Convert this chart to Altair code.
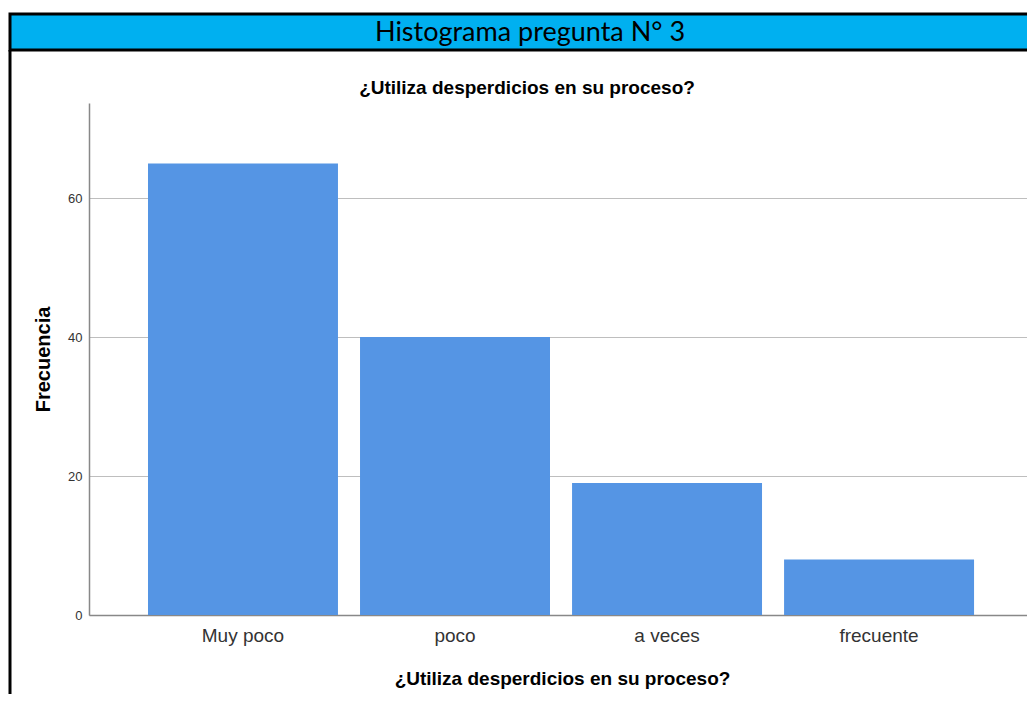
import altair as alt
import pandas as pd

categories = ["Muy poco", "poco", "a veces", "frecuente"]
frequencies = [65, 40, 19, 8]
y_ticks = [0, 20, 40, 60]
header_text = "Histograma pregunta N° 3"
chart_title = "¿Utiliza desperdicios en su proceso?"
x_title = "¿Utiliza desperdicios en su proceso?"
y_title = "Frecuencia"

df = pd.DataFrame({"cat": categories, "freq": frequencies})
one = pd.DataFrame({"k": [0]})

W, H = 938, 512
PAD = dict(left=81, top=95, right=0, bottom=79)
FONT = "Liberation Sans"

bars = alt.Chart(df).mark_bar(color="#5595E4").encode(
    x=alt.X("cat:N", sort=categories, title=x_title,
            scale=alt.Scale(paddingInner=0.104, paddingOuter=0.264, align=0.527),
            axis=alt.Axis(labelAngle=0, ticks=False, domainColor="#888888", domainWidth=1.5,
                          labelFont=FONT, labelFontSize=19, labelColor="#333333", labelPadding=11,
                          titleFont=FONT, titleFontSize=19, titleFontWeight="bold",
                          titleColor="#000000", titlePadding=24, titleX=473)),
    y=alt.Y("freq:Q", title=y_title, scale=alt.Scale(domain=[0, 73.7], nice=False),
            axis=alt.Axis(values=y_ticks, ticks=False, grid=True, gridColor="#BEBEBE",
                          domainColor="#888888", domainWidth=1.5,
                          labelFont=FONT, labelFontSize=13, labelColor="#333333", labelPadding=7,
                          titleFont=FONT, titleFontSize=20, titleFontWeight="bold",
                          titleColor="#000000", titlePadding=14)),
)

header = alt.Chart(one).mark_rect(fill="#00B0F0", stroke="#000000", strokeWidth=3).encode(
    x=alt.value(-79), x2=alt.value(W + 10), y=alt.value(-89), y2=alt.value(-53)
)
border = alt.Chart(one).mark_rule(color="#000000", strokeWidth=3).encode(
    x=alt.value(-79), y=alt.value(-53), y2=alt.value(H + PAD["bottom"])
)
header_lbl = alt.Chart(one).mark_text(
    text=header_text, font="Lato", fontSize=27, color="#000000", align="center", baseline="middle"
).encode(x=alt.value(441), y=alt.value(-70))
title_lbl = alt.Chart(one).mark_text(
    text=chart_title, font=FONT, fontSize=19, fontWeight="bold", color="#000000",
    align="center", baseline="middle"
).encode(x=alt.value(438), y=alt.value(-15))

chart = alt.layer(bars, header, border, header_lbl, title_lbl).properties(
    width=W, height=H, padding=PAD, autosize=alt.AutoSizeParams(type="none"), background="white"
).configure_view(strokeWidth=0)

chart.save("out.html", embed_options={"renderer": "svg", "actions": False})
